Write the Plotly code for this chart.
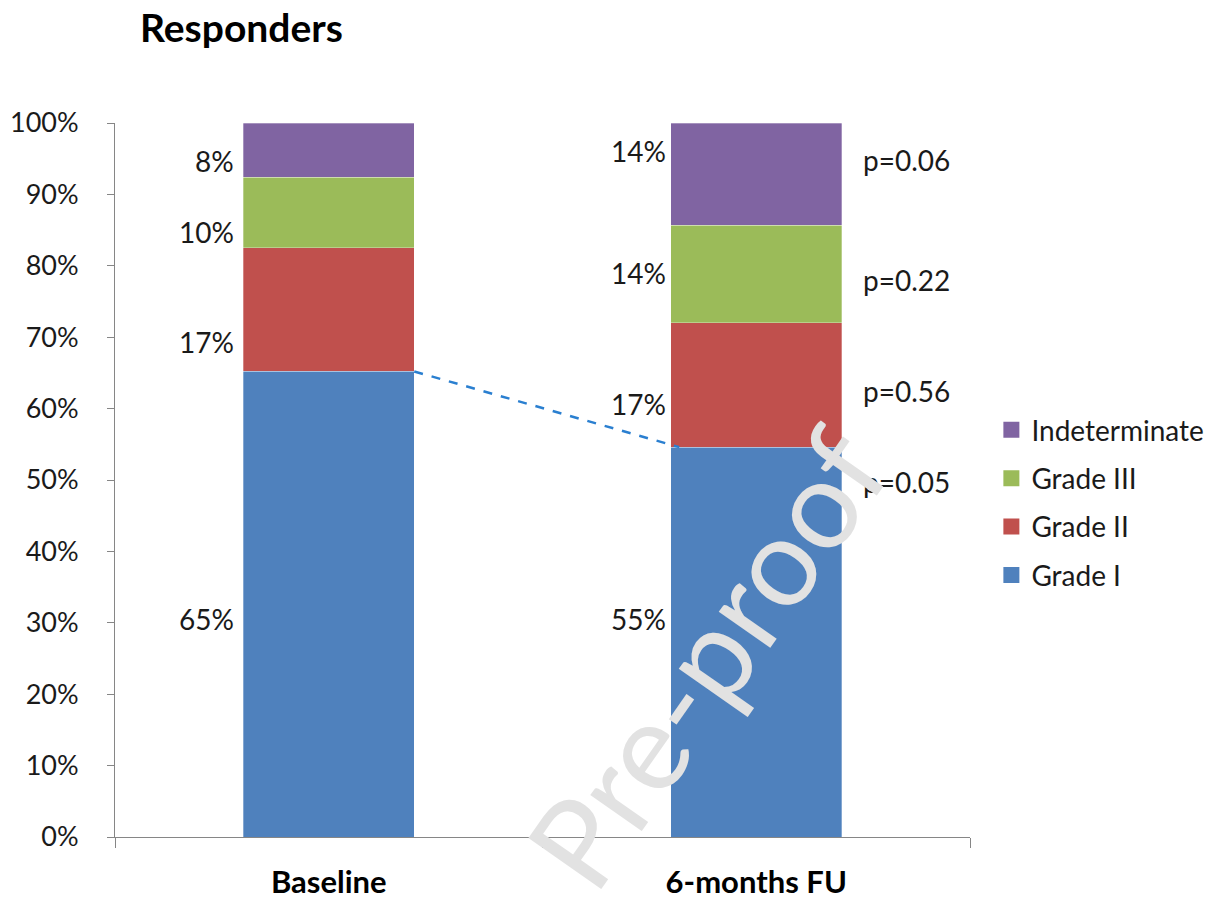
import plotly.graph_objects as go

categories = ["Baseline", "6-months FU"]
series_names = ["Grade I", "Grade II", "Grade III", "Indeterminate"]
grade_1 = [65.2, 54.6]
grade_2 = [17.3, 17.4]
grade_3 = [9.9, 13.7]
indeterminate = [7.6, 14.3]
p_values = ["p=0.05", "p=0.56", "p=0.22", "p=0.06"]
y_ticks = [0, 10, 20, 30, 40, 50, 60, 70, 80, 90, 100]
y_tick_labels = [f"{t}%" for t in y_ticks]

series = [grade_1, grade_2, grade_3, indeterminate]
colors = ["#4F81BD", "#C0504D", "#9BBB59", "#8064A2"]
FONT = "Lato"
BAR_W = 0.4

fig = go.Figure()
for i, (name, vals, col) in enumerate(zip(series_names, series, colors)):
    fig.add_trace(go.Bar(
        x=categories, y=vals, name=name, width=BAR_W,
        marker=dict(color=col, line=dict(color="rgba(255,255,255,0.6)", width=0.5)),
        legendgroup=name, showlegend=False, hoverinfo="skip",
    ))
# legend entries with larger square swatches
for i, (name, col) in enumerate(zip(series_names, colors)):
    fig.add_trace(go.Scatter(
        x=[None], y=[None], mode="markers", name=name, legendgroup=name,
        legendrank=len(series_names) - i,
        marker=dict(symbol="square", size=18, color=col),
    ))

# value labels to the left of the bars (pixel offsets per label)
label_shift = [[-15, -32, -19, -11], [23, -19, 1, 23]]
annotations = []
for ci, cat in enumerate(categories):
    base = 0
    for si, vals in enumerate(series):
        v = vals[ci]
        mid = base + v / 2
        annotations.append(dict(
            x=ci - BAR_W / 2, y=mid, xref="x", yref="y",
            text=f"{round(v)}%", showarrow=False,
            xanchor="right", yanchor="middle",
            xshift=-7 if ci == 0 else -3, yshift=label_shift[ci][si],
            font=dict(family=FONT, size=28, color="#1a1a1a"),
        ))
        base += v

# p-values to the right of the follow-up bar
p_y = [49.7, 62.5, 78.0, 94.8]
for txt, yy in zip(p_values, p_y):
    annotations.append(dict(
        x=1 + BAR_W / 2, y=yy, xref="x", yref="y", text=txt, showarrow=False,
        xanchor="left", yanchor="middle", xshift=19,
        font=dict(family=FONT, size=28, color="#1a1a1a"),
    ))

# watermark
annotations.append(dict(
    x=0.69, y=0.2525, xref="paper", yref="paper", text="Pre-proof",
    showarrow=False, textangle=-55, xanchor="center", yanchor="middle",
    font=dict(family=FONT, size=124, color="#e2e2e2"),
))

fig.add_shape(type="line", xref="x", yref="y",
              x0=0 + BAR_W / 2, y0=grade_1[0], x1=1 - BAR_W / 2 + 0.02, y1=grade_1[1],
              line=dict(color="#2a7fd0", width=2.5, dash="dash"))

fig.update_layout(
    width=1231, height=902,
    margin=dict(l=115, r=261, t=123, b=65),
    paper_bgcolor="white", plot_bgcolor="white",
    barmode="stack", bargap=0.6,
    title=dict(text="<b>Responders</b>", x=140 / 1231, xref="container", xanchor="left",
               y=1 - 28 / 902, yref="container", yanchor="middle",
               font=dict(family=FONT, size=39, color="black")),
    showlegend=True,
    legend=dict(x=1.025, y=0.605, xanchor="left", yanchor="top",
                traceorder="grouped", tracegroupgap=9, itemsizing="trace",
                font=dict(family=FONT, size=28, color="#1a1a1a"),
                bgcolor="rgba(0,0,0,0)"),
    annotations=annotations,
    xaxis=dict(type="category", range=[-0.5, 1.5], showline=True, linecolor="#868686",
               linewidth=1, ticks="outside", tickson="boundaries", ticklen=10,
               tickcolor="#868686", showgrid=False, zeroline=False, automargin=False,
               ticklabelstandoff=18,
               tickfont=dict(family=FONT, size=31, color="black", weight="bold")),
    yaxis=dict(range=[0, 100], tickmode="array", tickvals=y_ticks, ticktext=y_tick_labels,
               showline=True, automargin=False,
               linecolor="#868686", linewidth=1, ticks="outside", ticklen=7,
               tickcolor="#868686", showgrid=False, zeroline=False,
               ticklabelstandoff=23,
               tickfont=dict(family=FONT, size=27, color="#1a1a1a")),
)

fig.write_html("out.html", config={"displayModeBar": False},
               post_script="document.body.style.margin='0';document.body.style.padding='0';")
